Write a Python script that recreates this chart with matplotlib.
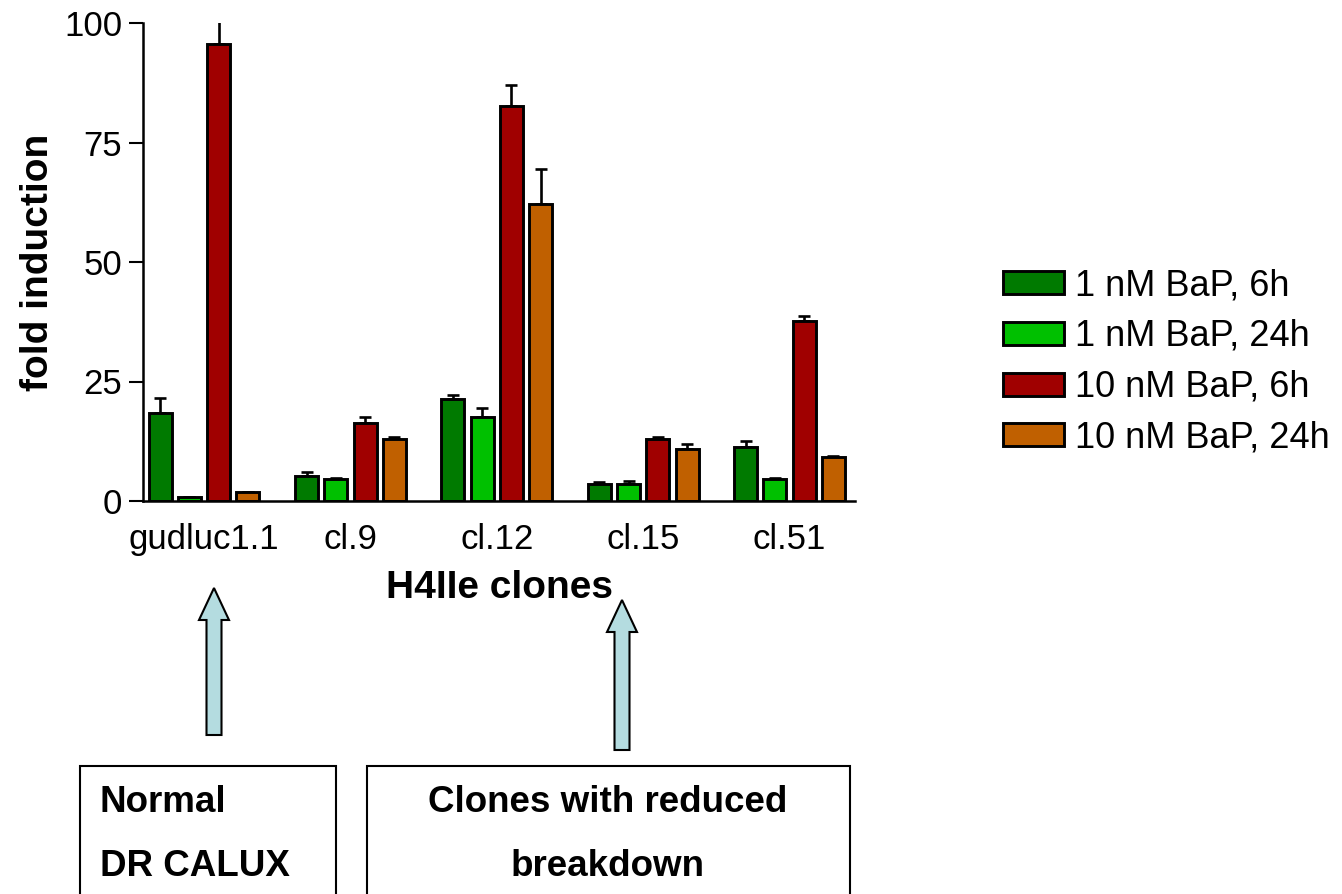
#!/usr/bin/env python3

import numpy as np
import matplotlib
matplotlib.use('Agg')
import matplotlib.pyplot as plt
import matplotlib.patches as mpatches

plt.rcParams['font.family'] = ['Liberation Sans', 'DejaVu Sans']

clones = ['gudluc1.1', 'cl.9', 'cl.12', 'cl.15', 'cl.51']
series = ['1 nM BaP, 6h', '1 nM BaP, 24h', '10 nM BaP, 6h', '10 nM BaP, 24h']
colors = ['#007a00', '#00c000', '#a00000', '#c06000']

# fold induction per series (rows) and clone (columns)
values = [
    [18.5, 5.2, 21.3, 3.6, 11.2],
    [0.9, 4.6, 17.6, 3.6, 4.6],
    [95.7, 16.3, 82.6, 13.0, 37.7],
    [1.9, 12.9, 62.1, 10.9, 9.2],
]
errors = [
    [3.0, 0.9, 0.9, 0.4, 1.4],
    [0.0, 0.3, 1.8, 0.6, 0.3],
    [5.0, 1.3, 4.4, 0.3, 0.9],
    [0.0, 0.5, 7.4, 1.1, 0.3],
]
yticks = [0, 25, 50, 75, 100]

W, H = 1342, 894
fig = plt.figure(figsize=(W / 100, H / 100), dpi=100)
ax = fig.add_axes([143 / W, 1 - 501 / H, (855 - 143) / W, (501 - 23) / H])

x = np.arange(len(clones))
bw = 0.157
offsets = [-0.3, -0.1, 0.1, 0.3]
handles = []
for i, name in enumerate(series):
    pos = x + offsets[i]
    b = ax.bar(pos, values[i], bw, color=colors[i], edgecolor='black',
               linewidth=2.1, label=name, zorder=2)
    handles.append(b)
    ax.errorbar(pos, values[i], yerr=[np.zeros(len(clones)), errors[i]],
                fmt='none', ecolor='black', elinewidth=1.9, capsize=4.5,
                capthick=1.9, zorder=1)

ax.set_xlim(-0.417, 4.447)
ax.set_ylim(0, 100)
ax.set_yticks(yticks)
ax.set_xticks(x)
ax.set_xticklabels(clones)
for s in ['top', 'right']:
    ax.spines[s].set_visible(False)
for s in ['left', 'bottom']:
    ax.spines[s].set_linewidth(1.8)
ax.tick_params(axis='y', length=10, width=1.5, labelsize=25, pad=5)
ax.tick_params(axis='x', length=0, labelsize=25, pad=16)
ax.set_ylabel('fold induction', fontsize=28, fontweight='bold', labelpad=6)
ax.set_xlabel('H4IIe clones', fontsize=28, fontweight='bold', labelpad=10)

fig.legend(handles=handles, loc='upper left',
           bbox_to_anchor=(1003 / W, 1 - 268 / H), frameon=False,
           fontsize=26, handlelength=1.7, handleheight=0.6,
           handletextpad=0.3, labelspacing=0.44, borderpad=0,
           borderaxespad=0)

# annotation layer in pixel coordinates
ov = fig.add_axes([0, 0, 1, 1], facecolor='none')
ov.set_xlim(0, W)
ov.set_ylim(H, 0)
ov.axis('off')

arrow_color = '#b4dce0'
for cx, tail, tip in [(214, 735, 588), (622, 750, 600)]:
    ov.add_patch(mpatches.FancyArrow(cx, tail, 0, tip - tail, width=15,
                                     head_width=30, head_length=32,
                                     length_includes_head=True,
                                     facecolor=arrow_color,
                                     edgecolor='black', linewidth=1.5))

for left, right in [(80, 336), (367, 850)]:
    ov.add_patch(mpatches.Rectangle((left, 766), right - left, 200,
                                    facecolor='white', edgecolor='black',
                                    linewidth=1.5, clip_on=False))

box_font = dict(fontsize=26.5, fontweight='bold')
ov.text(100, 803, 'Normal', ha='left', va='center', **box_font)
ov.text(100, 867, 'DR CALUX', ha='left', va='center', **box_font)
ov.text(608, 803, 'Clones with reduced', ha='center', va='center', **box_font)
ov.text(608, 867, 'breakdown', ha='center', va='center', **box_font)

fig.savefig('out.png', dpi=100)
